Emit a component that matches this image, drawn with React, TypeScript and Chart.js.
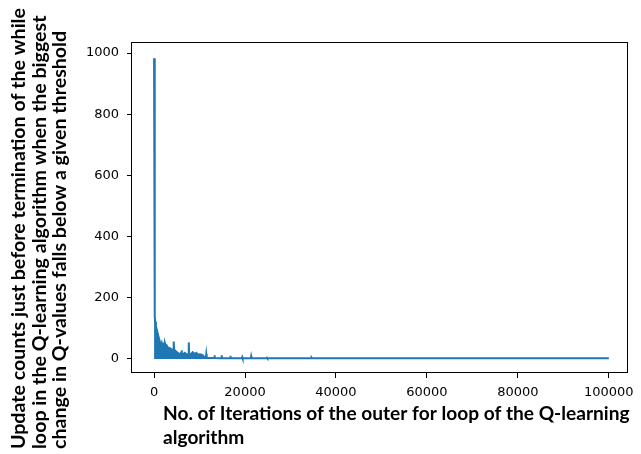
import React, { useEffect, useRef } from "react";
import { Chart, registerables } from "chart.js";

Chart.register(...registerables);

// Iteration index (x) and update counts (y)
const iterations = [
  0, 150, 250, 400, 600, 800, 1000, 1300, 1500, 1680, 1850, 2030, 2200, 2400,
  2600, 2770, 3050, 3500, 3860, 4200, 4280, 4360, 4440, 4730, 5000, 5300, 5670,
  5950, 6040, 6130, 6320, 6760, 7190, 7540, 7630, 7720, 8000, 8500, 8930, 9300,
  9600, 10000, 10460, 10700, 11100, 11400, 11480, 11560, 11800, 12200, 13200,
  13290, 13380, 14800, 14880, 14960, 16700, 16780, 16860, 19300, 19390, 19480,
  21260, 21350, 21440, 24750, 24840, 24930, 34560, 34650, 34740, 100000,
];
const updateCounts = [
  983, 140, 122, 108, 95, 84, 72, 55, 46, 53, 42, 47, 40, 51,
  41, 44, 37, 35, 31, 28, 30, 57, 30, 26, 22, 19, 15,
  20, 28, 20, 15, 20, 14, 16, 54, 16, 14, 22, 16, 20,
  14, 15, 14, 12, 6, 5, 16, 5, 4, 3, 3,
  12, 3, 2, 12, 2, 2, 10, 2, 2, 6, 2,
  2, 9, 2, 2, 4, 2, 2, 4, 2, 2,
];

const xTickValues = [0, 20000, 40000, 60000, 80000, 100000];
const yTickValues = [0, 200, 400, 600, 800, 1000];

const yTitleLines = [
  "Update counts just before termination of the while",
  "loop in the Q-learning algorithm when the biggest",
  "change in Q-values falls below a given threshold",
];
const xTitleLines = [
  "No. of Iterations of the outer for loop of the Q-learning",
  "algorithm",
];

export default function App() {
  const ref = useRef<HTMLCanvasElement>(null);

  useEffect(() => {
    const canvas = ref.current;
    if (!canvas) return;
    const points = iterations.map((x, i) => ({ x, y: updateCounts[i] }));

    const framePlugin = {
      id: "frameAndTitles",
      afterDraw(chart: any) {
        const ctx = chart.ctx as CanvasRenderingContext2D;
        const { left, top, right, bottom } = chart.chartArea;
        ctx.save();
        ctx.strokeStyle = "#000";
        ctx.lineWidth = 1;
        ctx.strokeRect(
          Math.round(left) - 0.5,
          Math.round(top) + 0.5,
          Math.round(right - left),
          Math.round(bottom - top) - 1
        );

        ctx.fillStyle = "#000";
        const family = "Lato, 'Open Sans', sans-serif";
        const fit = (text: string, target: number) => {
          ctx.font = `bold 18px ${family}`;
          const w = ctx.measureText(text).width;
          return (18 * target) / w;
        };

        const ySize = fit(yTitleLines[0], 441);
        ctx.font = `bold ${ySize}px ${family}`;
        ctx.textAlign = "left";
        ctx.textBaseline = "alphabetic";
        const yBases = [25, 45.5, 66];
        yTitleLines.forEach((line, i) => {
          ctx.save();
          ctx.translate(yBases[i], 449);
          ctx.rotate(-Math.PI / 2);
          ctx.fillText(line, 0, 0);
          ctx.restore();
        });

        const xSize = fit(xTitleLines[0], 467);
        ctx.font = `bold ${xSize}px ${family}`;
        const xBases = [420, 444];
        xTitleLines.forEach((line, i) => {
          ctx.fillText(line, 163, xBases[i]);
        });
        ctx.restore();
      },
    };

    const tickFont = { family: "'DejaVu Sans', sans-serif", size: 13 };

    const chart = new Chart(canvas, {
      type: "line",
      data: {
        datasets: [
          {
            data: points,
            borderColor: "#1f77b4",
            backgroundColor: "#1f77b4",
            borderWidth: 2,
            pointRadius: 0,
            tension: 0,
            fill: "origin",
          },
        ],
      },
      options: {
        animation: false,
        responsive: false,
        devicePixelRatio: 1,
        parsing: false,
        layout: { padding: { top: 42, right: 9, bottom: 0, left: 0 } },
        plugins: {
          legend: { display: false },
          tooltip: { enabled: false },
        },
        scales: {
          x: {
            type: "linear",
            min: -4850,
            max: 104300,
            afterBuildTicks: (scale: any) => {
              scale.ticks = xTickValues.map((v) => ({ value: v }));
            },
            afterFit: (scale: any) => {
              scale.height = 81;
            },
            border: { display: false },
            grid: {
              drawOnChartArea: false,
              drawTicks: true,
              tickLength: 5,
              color: "#000",
              lineWidth: 1,
            },
            ticks: {
              autoSkip: false,
              maxRotation: 0,
              minRotation: 0,
              padding: 7,
              color: "#000",
              font: tickFont,
              callback: (v: any) => String(v),
            },
          },
          y: {
            type: "linear",
            min: -46,
            max: 1036,
            afterBuildTicks: (scale: any) => {
              scale.ticks = yTickValues.map((v) => ({ value: v }));
            },
            afterFit: (scale: any) => {
              scale.width = 132;
            },
            border: { display: false },
            grid: {
              drawOnChartArea: false,
              drawTicks: true,
              tickLength: 5,
              color: "#000",
              lineWidth: 1,
            },
            ticks: {
              padding: 8,
              color: "#000",
              font: tickFont,
              callback: (v: any) => String(v),
            },
          },
        },
      },
      plugins: [framePlugin],
    });

    return () => chart.destroy();
  }, []);

  return (
    <div style={{ position: "absolute", left: 0, top: 0, width: 641, height: 454, background: "#fff" }}>
      <canvas ref={ref} width={641} height={454} style={{ width: 641, height: 454, display: "block" }} />
    </div>
  );
}
